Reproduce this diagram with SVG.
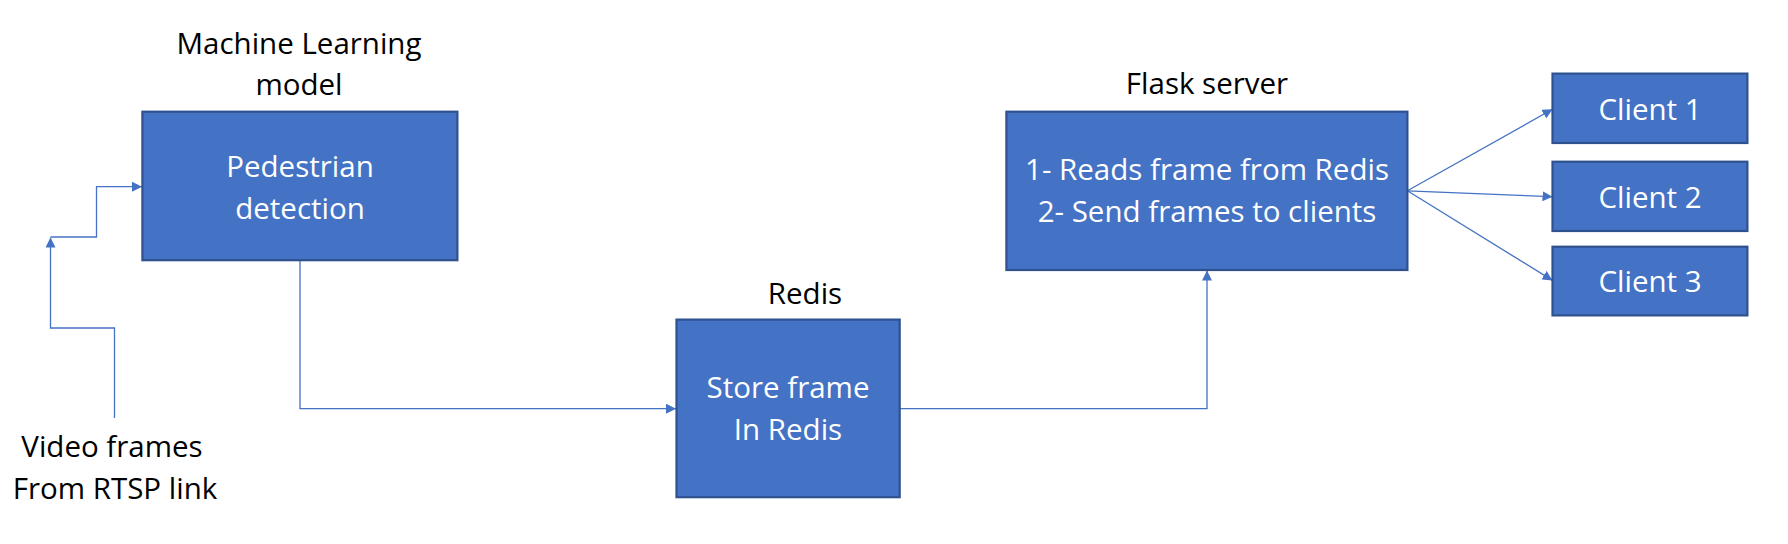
<svg xmlns="http://www.w3.org/2000/svg" width="1788" height="544" viewBox="0 0 1788 544">
<defs>
<style>
.box{fill:#4472C4;stroke:#2F528F;stroke-width:2.2}
.in{font-family:"Open Sans","Noto Sans",sans-serif;font-size:29.5px;fill:#FFFFFF;text-anchor:middle}
.lbl{font-family:"Open Sans","Noto Sans",sans-serif;font-size:29.5px;fill:#000000;text-anchor:middle}
.con{fill:none;stroke:#4472C4;stroke-width:1.3}
</style>
<marker id="arr" viewBox="0 0 10 10" refX="10" refY="5" markerWidth="10" markerHeight="10" markerUnits="userSpaceOnUse" orient="auto">
<path d="M0,0 L10,5 L0,10 z" fill="#4472C4"/>
</marker>
</defs>
<rect width="1788" height="544" fill="#FFFFFF"/>
<g id="connectors">
<path class="con" d="M114.5,418 V328 H50.5 V237.5" marker-end="url(#arr)"/>
<path class="con" d="M50.5,237 H96.5 V186.7 H142" marker-end="url(#arr)"/>
<path class="con" d="M300,260 V408.7 H676" marker-end="url(#arr)"/>
<path class="con" d="M899.7,408.7 H1207 V270.5" marker-end="url(#arr)"/>
<path class="con" d="M1407.4,190.8 L1552.5,109.3" marker-end="url(#arr)"/>
<path class="con" d="M1407.4,190.8 L1552.5,196.7" marker-end="url(#arr)"/>
<path class="con" d="M1407.4,190.8 L1552.5,280.4" marker-end="url(#arr)"/>
</g>
<g id="input">
<text class="lbl" x="112" y="457">Video frames</text>
<text class="lbl" x="115" y="498.5">From RTSP link</text>
</g>
<g id="ml">
<text class="lbl" x="299" y="54">Machine Learning</text>
<text class="lbl" x="299" y="94.5">model</text>
<rect class="box" x="142.4" y="111.7" width="315" height="148.5"/>
<text class="in" x="300" y="177">Pedestrian</text>
<text class="in" x="300" y="218.5">detection</text>
</g>
<g id="redis">
<text class="lbl" x="805" y="303.5">Redis</text>
<rect class="box" x="676.5" y="319.6" width="223.2" height="177.6"/>
<text class="in" x="788" y="398">Store frame</text>
<text class="in" x="788" y="440">In Redis</text>
</g>
<g id="flask">
<text class="lbl" x="1207" y="93.7">Flask server</text>
<rect class="box" x="1006.4" y="111.7" width="401" height="158.3"/>
<text class="in" x="1207" y="180.4">1- Reads frame from Redis</text>
<text class="in" x="1207" y="222">2- Send frames to clients</text>
</g>
<g id="client1">
<rect class="box" x="1552.5" y="73.6" width="194.9" height="69.4"/>
<text class="in" x="1650" y="119.7">Client 1</text>
</g>
<g id="client2">
<rect class="box" x="1552.5" y="161.7" width="194.9" height="69.3"/>
<text class="in" x="1650" y="207.5">Client 2</text>
</g>
<g id="client3">
<rect class="box" x="1552.5" y="246.7" width="194.9" height="68.7"/>
<text class="in" x="1650" y="291.5">Client 3</text>
</g>
</svg>
